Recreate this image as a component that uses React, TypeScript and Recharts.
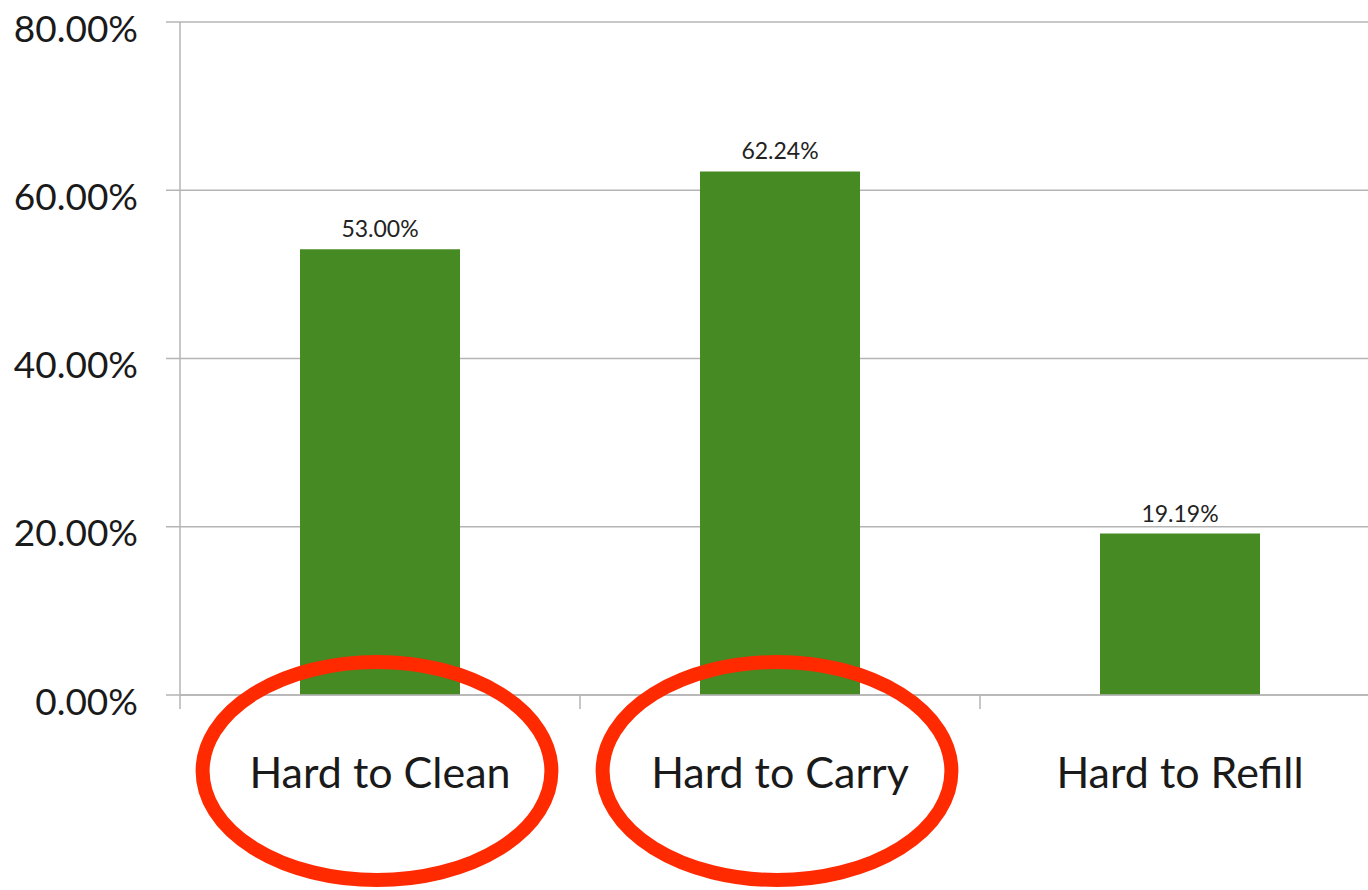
import { BarChart, Bar, XAxis, YAxis, CartesianGrid, LabelList } from 'recharts';

const categories = ['Hard to Clean', 'Hard to Carry', 'Hard to Refill'];
const shares = [53.0, 62.24, 19.19];
const yTicks = [0, 20, 40, 60, 80];
const circled = ['Hard to Clean', 'Hard to Carry'];

const data = categories.map((name, i) => ({ name, share: shares[i] }));

const font = 'Lato, Carlito, "Open Sans", sans-serif';
const gridColor = '#b4b4b4';
const barColor = '#468a23';
const ringColor = '#ff2a00';

function YTick({ x, y, payload }: any) {
  return (
    <text
      x={x}
      y={y + 5}
      textAnchor="end"
      dominantBaseline="central"
      fontFamily={font}
      fontSize={37}
      fill="#1a1a1a"
    >
      {`${Number(payload.value).toFixed(2)}%`}
    </text>
  );
}

function XTick({ x, y, payload, width, visibleTicksCount }: any) {
  const band = width / (visibleTicksCount || categories.length);
  const left = x - band / 2;
  const ring = circled.includes(payload.value);
  return (
    <g>
      <line x1={left} y1={y} x2={left} y2={y + 14} stroke={gridColor} strokeWidth={1.5} />
      <text
        x={x}
        y={y + 93}
        textAnchor="middle"
        fontFamily={font}
        fontSize={43}
        fill="#1a1a1a"
      >
        {payload.value}
      </text>
      {ring && (
        <ellipse
          cx={x - 3}
          cy={y + 76}
          rx={band * 0.436}
          ry={109}
          fill="none"
          stroke={ringColor}
          strokeWidth={14}
        />
      )}
    </g>
  );
}

export default function App() {
  return (
    <div
      style={{
        position: 'absolute',
        left: 0,
        top: 0,
        width: 1368,
        height: 890,
        overflow: 'hidden',
        background: '#fff',
      }}
    >
      <BarChart
        width={1380}
        height={890}
        data={data}
        margin={{ top: 22, right: 0, left: 0, bottom: 0 }}
        barCategoryGap="30%"
      >
        <CartesianGrid vertical={false} stroke={gridColor} strokeWidth={1.5} />
        <YAxis
          width={180}
          domain={[0, 80]}
          ticks={yTicks}
          interval={0}
          tickSize={14}
          tickMargin={28}
          tickLine={{ stroke: gridColor, strokeWidth: 1.5 }}
          axisLine={{ stroke: gridColor, strokeWidth: 1.5 }}
          tick={<YTick />}
        />
        <Bar dataKey="share" fill={barColor} isAnimationActive={false}>
          <LabelList
            dataKey="share"
            position="top"
            offset={12}
            formatter={(v: any) => `${Number(v).toFixed(2)}%`}
            fill="#222"
            fontFamily={font}
            fontSize={23}
          />
        </Bar>
        <XAxis
          dataKey="name"
          height={195}
          interval={0}
          tickSize={0}
          tickMargin={0}
          tickLine={false}
          axisLine={{ stroke: gridColor, strokeWidth: 1.5 }}
          tick={<XTick />}
        />
      </BarChart>
    </div>
  );
}
